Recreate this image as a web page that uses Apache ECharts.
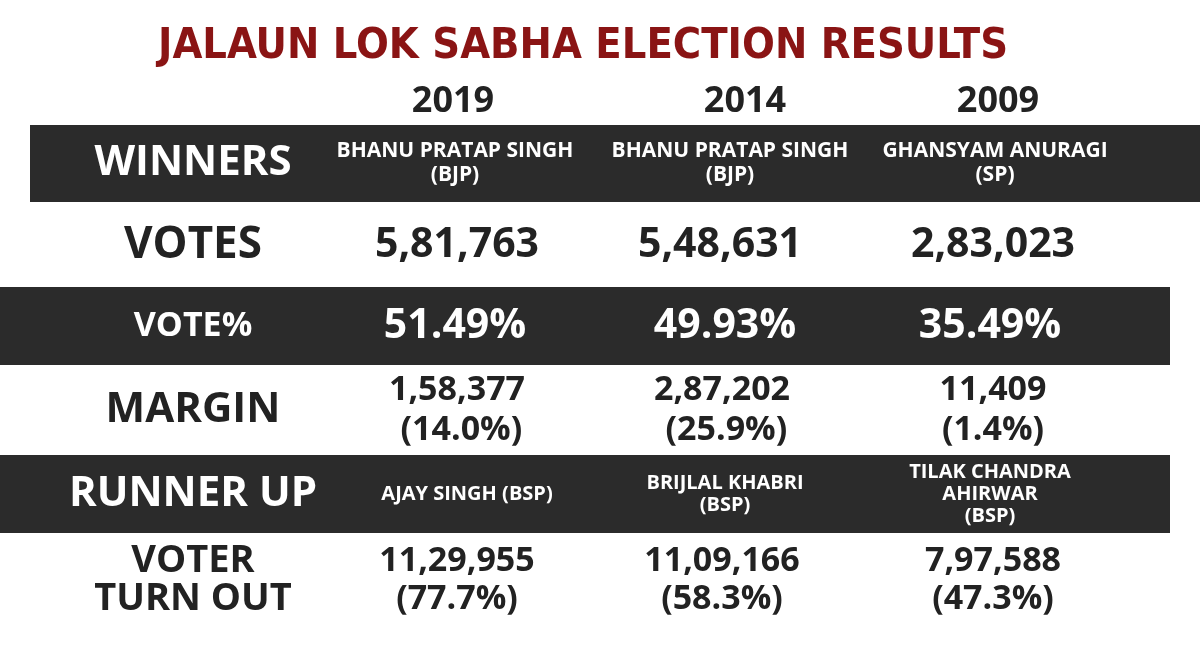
<!DOCTYPE html>
<html><head><meta charset="utf-8">
<script src="https://cdn.jsdelivr.net/npm/echarts@6/dist/echarts.min.js"></script>
<style>html,body{margin:0;padding:0;background:#fff}#c{width:1200px;height:666px}</style>
</head><body><div id="c"></div>
<script>
const title = 'JALAUN LOK SABHA ELECTION RESULTS';
const years = ['2019', '2014', '2009'];
const rowLabels = ['WINNERS', 'VOTES', 'VOTE%', 'MARGIN', 'RUNNER UP', 'VOTER\nTURN OUT'];
const winners = ['BHANU PRATAP SINGH\n(BJP)', 'BHANU PRATAP SINGH\n(BJP)', 'GHANSYAM ANURAGI\n(SP)'];
const votes = ['5,81,763', '5,48,631', '2,83,023'];
const votePct = ['51.49%', '49.93%', '35.49%'];
const margin = ['1,58,377\n (14.0%)', '2,87,202\n (25.9%)', '11,409\n(1.4%)'];
const runnerUp = ['AJAY SINGH (BSP)', 'BRIJLAL KHABRI\n(BSP)', 'TILAK CHANDRA\nAHIRWAR\n(BSP)'];
const turnout = ['11,29,955\n(77.7%)', '11,09,166\n(58.3%)', '7,97,588\n(47.3%)'];

const rowBands = [[0,77],[80,160],[162,240],[242,328],[330,408],[410,500]];
const dark = [true,false,true,false,true,false];
const bandX = [[30,1200],[0,1170],[0,1170],[0,1170],[0,1170],[0,1170]];
const labelX = 193;
const colX = [[455,730,995],[457,720,993],[455,725,990],[457,722,993],[467,725,990],[457,722,993]];
const valueStyles = [
  {size:21,lh:24,dy:0},{size:41,lh:44,dy:0},{size:41,lh:44,dy:0},
  {size:34,lh:40,dy:0},{size:20,lh:22,dy:0},{size:34,lh:38,dy:0}];
const labelSizes = [42,44,34,42,42,38];
const rows = [winners, votes, votePct, margin, runnerUp, turnout];

const chart = echarts.init(document.getElementById('c'));
const font = '"Open Sans", "Noto Sans", sans-serif';
chart.setOption({
  animation:false,
  title:{text:title,left:578,top:20,textAlign:'center',
    textStyle:{fontFamily:'"Liberation Sans Narrow","DejaVu Sans Condensed",sans-serif',fontWeight:'bold',
      fontSize:43,color:'#8a1414',textShadowColor:'#e0242a',textShadowOffsetX:2,textShadowOffsetY:2,textShadowBlur:0}},
  grid:{left:0,right:0,top:125,bottom:41},
  xAxis:{type:'value',min:0,max:1200,show:false},
  yAxis:{type:'value',min:0,max:500,inverse:true,show:false},
  graphic: years.map((y,i)=>({type:'text',x:[453,745,998][i],y:102,
    style:{text:y,font:'bold 36px '+font,fill:'#222',align:'center',verticalAlign:'middle'}})),
  series:[{
    type:'custom',
    data: rowLabels.map((l,i)=>[i]),
    renderItem:(params,api)=>{
      const i = api.value(0);
      const p0 = api.coord([bandX[i][0], rowBands[i][0]]);
      const p1 = api.coord([bandX[i][1], rowBands[i][1]]);
      const cy = (p0[1]+p1[1])/2;
      const fg = dark[i] ? '#ffffff' : '#222222';
      const children = [];
      if (dark[i]) children.push({type:'rect',shape:{x:p0[0],y:p0[1],width:p1[0]-p0[0],height:p1[1]-p0[1]},
        style:{fill:'#2b2b2b'}});
      const lx = api.coord([labelX,0])[0];
      children.push({type:'text',style:{x:lx,y:cy,text:rowLabels[i],fill:fg,
        font:'bold '+labelSizes[i]+'px '+font,align:'center',verticalAlign:'middle',lineHeight:labelSizes[i]}});
      const vs = valueStyles[i];
      rows[i].forEach((t,j)=>{
        const x = api.coord([colX[i][j],0])[0];
        children.push({type:'text',style:{x:x,y:cy+vs.dy,text:t,fill:fg,
          font:'bold '+vs.size+'px '+font,align:'center',verticalAlign:'middle',lineHeight:vs.lh}});
      });
      return {type:'group',children};
    }
  }]
});
</script></body></html>
